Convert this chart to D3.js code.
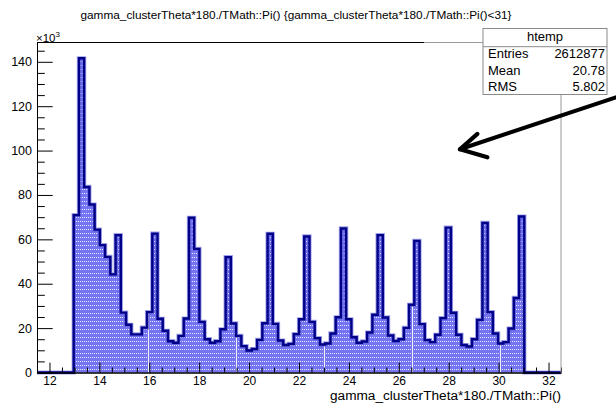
<!DOCTYPE html>
<html>
<head>
<meta charset="utf-8">
<script src="https://cdn.jsdelivr.net/npm/d3@7"></script>
<style>
  html, body { margin: 0; padding: 0; background: #fff; }
  svg { display: block; font-family: "Liberation Sans", Arial, Helvetica, sans-serif; }
</style>
</head>
<body>
<script>
// ---- data -------------------------------------------------------------
const titleText = "gamma_clusterTheta*180./TMath::Pi() {gamma_clusterTheta*180./TMath::Pi()<31}";
const xTitleText = "gamma_clusterTheta*180./TMath::Pi()";
const histName = "htemp";
const statLabels = ["Entries", "Mean", "RMS"];
const statValues = ["2612877", "20.78", "5.802"];

// axis range of the histogram and its binning (degrees)
const axisRange = [11.5, 32.5];
const binStart = 12.97;
const binWidth = 0.21;
// bin contents in units of 10^3 entries
const counts = [
  70.9, 141.6, 83.6, 75.7, 64.4, 57.4, 52.1, 44.2, 61.9, 27.0,
  21.5, 17.2, 17.2, 20.2, 27.2, 62.6, 24.2, 18.8, 14.1, 13.4,
  16.5, 24.3, 69.7, 55.7, 22.8, 15.0, 13.4, 14.1, 19.5, 52.0,
  22.1, 16.5, 11.9, 9.9, 10.6, 14.7, 22.2, 62.5, 21.9, 14.4,
  12.4, 12.9, 17.3, 24.0, 61.3, 22.8, 15.5, 12.6, 13.1, 17.6,
  24.9, 64.9, 24.0, 15.9, 13.4, 14.0, 18.0, 26.0, 61.9, 24.8,
  16.7, 14.2, 15.0, 20.1, 30.5, 59.3, 21.8, 14.6, 13.7, 17.0,
  24.5, 65.3, 26.9, 17.0, 12.4, 11.7, 15.0, 23.7, 67.4, 27.2,
  17.6, 13.1, 13.7, 19.8, 33.6, 70.3
];
const xMajorTicks = [12, 14, 16, 18, 20, 22, 24, 26, 28, 30, 32];
const yMajorTicks = [0, 20, 40, 60, 80, 100, 120, 140];
const yMax = 148.7;

// ---- layout -----------------------------------------------------------
const W = 616, H = 403;
const frame = { left: 37, right: 561, top: 42.5, bottom: 372.5 };
const statBox = { left: 483, right: 607, top: 28.5, bottom: 94.5 };
const fontStack = "'Liberation Sans', Arial, Helvetica, sans-serif";

const svg = d3.select("body").append("svg")
  .attr("width", W).attr("height", H);

const x = d3.scaleLinear().domain(axisRange).range([frame.left, frame.right]);
const y = d3.scaleLinear().domain([0, yMax]).range([frame.bottom, frame.top]);

// ---- fill patterns ----------------------------------------------------
const defs = svg.append("defs");
const dots = defs.append("pattern").attr("id", "dots")
  .attr("patternUnits", "userSpaceOnUse").attr("width", 2).attr("height", 4);
dots.append("rect").attr("width", 2).attr("height", 4).attr("fill", "#7575f2");
dots.append("rect").attr("x", 0).attr("y", 1).attr("width", 1).attr("height", 1)
  .attr("fill", "#ffffff").attr("opacity", 0.85);

const seams = defs.append("pattern").attr("id", "seams")
  .attr("patternUnits", "userSpaceOnUse").attr("x", 148).attr("width", 88).attr("height", 4);
seams.append("rect").attr("x", 0).attr("width", 1).attr("height", 4)
  .attr("fill", "#f2f2ff");

defs.append("filter").attr("id", "soft")
  .append("feGaussianBlur").attr("stdDeviation", 0.6);

// ---- histogram --------------------------------------------------------
const bins = counts.map((c, i) => ({ x0: binStart + i * binWidth, v: c }));
const binEnd = binStart + counts.length * binWidth;
const stepData = bins.concat([{ x0: binEnd, v: counts[counts.length - 1] }]);

const area = d3.area()
  .x(d => x(d.x0)).y0(y(0)).y1(d => y(d.v))
  .curve(d3.curveStepAfter);

svg.append("path").datum(stepData).attr("d", area).attr("fill", "url(#dots)");
svg.append("path").datum(stepData).attr("d", area).attr("fill", "url(#seams)");

// outline: runs along zero outside the filled range, as ROOT draws it
const outlinePts = [[axisRange[0], 0], [binStart, 0]];
bins.forEach(b => { outlinePts.push([b.x0, b.v]); outlinePts.push([b.x0 + binWidth, b.v]); });
outlinePts.push([binEnd, 0], [axisRange[1], 0]);
const outline = d3.line().x(d => x(d[0])).y(d => y(d[1]));

svg.append("path").datum(outlinePts).attr("d", outline)
  .attr("fill", "none").attr("stroke", "#5555d8").attr("stroke-width", 4.2)
  .attr("stroke-opacity", 0.55).attr("stroke-linejoin", "miter");
svg.append("path").datum(outlinePts).attr("d", outline)
  .attr("fill", "none").attr("stroke", "#000088").attr("stroke-width", 2.4)
  .attr("stroke-linejoin", "miter");

// ---- axes -------------------------------------------------------------
const xMinor = d3.range(axisRange[0], axisRange[1] + 0.01, 0.5)
  .filter(v => !xMajorTicks.includes(v));
const yMinor = d3.range(0, yMax, 5).filter(v => !yMajorTicks.includes(v));

function styleAxis(g) {
  g.selectAll("path.domain").attr("stroke", "#000").attr("stroke-width", 1);
  g.selectAll(".tick line").attr("stroke", "#000").attr("stroke-width", 1);
  g.selectAll("text").attr("fill", "#000").style("font-size", "12.5px")
    .style("font-family", fontStack);
}

svg.append("g").attr("transform", `translate(0,${frame.bottom})`)
  .call(d3.axisBottom(x).tickValues(xMinor).tickSize(-5).tickSizeOuter(0).tickFormat(""))
  .call(styleAxis);
svg.append("g").attr("transform", `translate(0,${frame.bottom})`)
  .call(d3.axisBottom(x).tickValues(xMajorTicks).tickSize(-9.9).tickSizeOuter(0).tickPadding(4))
  .call(styleAxis)
  .call(g => g.selectAll("text").style("font-size", "12px"));

svg.append("g").attr("transform", `translate(${frame.left},0)`)
  .call(d3.axisLeft(y).tickValues(yMinor).tickSize(-7.8).tickSizeOuter(0).tickFormat(""))
  .call(styleAxis);
svg.append("g").attr("transform", `translate(${frame.left},0)`)
  .call(d3.axisLeft(y).tickValues(yMajorTicks).tickSize(-15.7).tickSizeOuter(0).tickPadding(5))
  .call(styleAxis);

// frame top and right edges
svg.append("line").attr("x1", frame.left).attr("x2", 424)
  .attr("y1", frame.top).attr("y2", frame.top).attr("stroke", "#000");
svg.append("line").attr("x1", 424).attr("x2", statBox.left)
  .attr("y1", frame.top).attr("y2", frame.top).attr("stroke", "#9a9a9a");
svg.append("line").attr("x1", frame.right).attr("x2", frame.right)
  .attr("y1", statBox.bottom).attr("y2", frame.bottom).attr("stroke", "#9a9a9a");

// exponent label
const expo = svg.append("text").attr("x", frame.left - 1).attr("y", 41.5)
  .style("font-size", "11.5px");
expo.append("tspan").text("×10");
expo.append("tspan").attr("dy", -5).style("font-size", "8px").text("3");

// titles
svg.append("text").attr("x", 296).attr("y", 19)
  .attr("text-anchor", "middle").style("font-size", "11px")
  .attr("textLength", 431).attr("lengthAdjust", "spacingAndGlyphs")
  .text(titleText);
svg.append("text").attr("x", frame.right).attr("y", 399.5)
  .attr("text-anchor", "end").style("font-size", "12px")
  .attr("textLength", 231).attr("lengthAdjust", "spacingAndGlyphs")
  .text(xTitleText);

// ---- statistics box -----------------------------------------------------
const sb = svg.append("g");
sb.append("rect").attr("x", statBox.left).attr("y", statBox.top)
  .attr("width", statBox.right - statBox.left).attr("height", statBox.bottom - statBox.top)
  .attr("fill", "#fff").attr("stroke", "#8a8a8a");
sb.append("line").attr("x1", statBox.left).attr("x2", statBox.right)
  .attr("y1", 46.7).attr("y2", 46.7).attr("stroke", "#8a8a8a");
sb.append("text").attr("x", (statBox.left + statBox.right) / 2).attr("y", 41)
  .attr("text-anchor", "middle").style("font-size", "13px").text(histName);
const rowY = [57.7, 74.5, 90.5];
statLabels.forEach((lab, i) => {
  sb.append("text").attr("x", statBox.left + 5).attr("y", rowY[i])
    .style("font-size", "13px").text(lab);
  sb.append("text").attr("x", statBox.right - 2).attr("y", rowY[i])
    .attr("text-anchor", "end").style("font-size", "13px").text(statValues[i]);
});

// ---- annotation arrow (data coordinates: degrees, 10^3 entries) --------
const arrowTail = [34.7, 124.0];
const arrowTip = [28.45, 100.6];
const barbUp = [29.15, 107.5];
const barbDown = [29.55, 97.0];
const arrow = d3.line().x(d => x(d[0])).y(d => y(d[1]));
const ag = svg.append("g").attr("filter", "url(#soft)");
ag.append("path").attr("d", arrow([arrowTail, arrowTip]))
  .attr("fill", "none").attr("stroke", "#000").attr("stroke-width", 4)
  .attr("stroke-linecap", "round");
ag.append("path").attr("d", arrow([barbUp, arrowTip, barbDown]))
  .attr("fill", "none").attr("stroke", "#000").attr("stroke-width", 4.2)
  .attr("stroke-linecap", "round").attr("stroke-linejoin", "round");
</script>
</body>
</html>
